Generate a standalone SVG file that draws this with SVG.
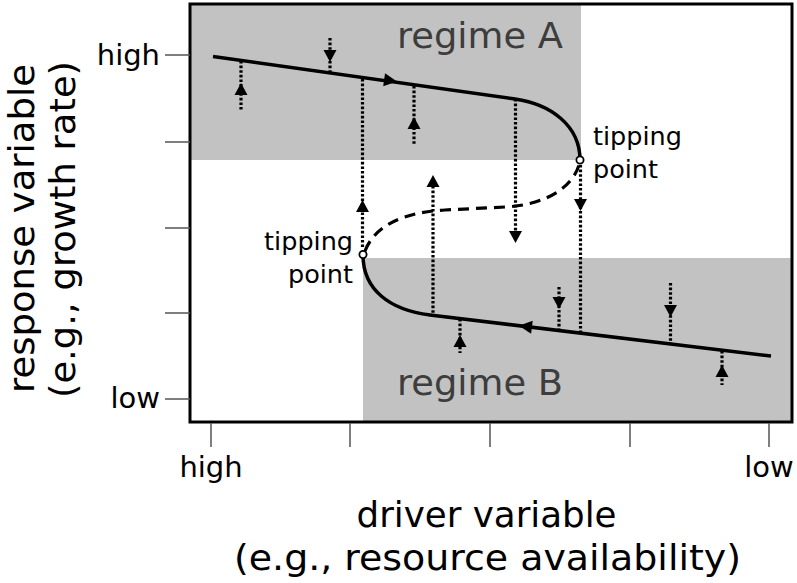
<svg xmlns="http://www.w3.org/2000/svg" xmlns:xlink="http://www.w3.org/1999/xlink" width="797" height="583" viewBox="0 0 797 583">
<style>
text{font-family:"DejaVu Sans","Liberation Sans",sans-serif;fill:#000}
.tick{stroke:#555;stroke-width:1.5}
.lbl{font-size:29px}
.title{font-size:36px}
.reg{font-size:35px;fill:#3d3d3d}
.tip{font-size:25.5px}
.curve{fill:none;stroke:#000;stroke-width:3.5}
.dash{fill:none;stroke:#000;stroke-width:3.2;stroke-dasharray:11 7}
.dot{fill:none;stroke:#000;stroke-width:3.2;stroke-dasharray:2.6 2}
.shade{fill:#c2c2c2}
.head{fill:#000}
</style>
<defs>
<path id="up" d="M0,0 L6.5,12 L-6.5,12 Z"/>
<path id="dn" d="M0,0 L6.5,-12 L-6.5,-12 Z"/>
</defs>
<rect width="797" height="583" fill="#fff"/>
<g id="regimeA">
<rect class="shade" x="190" y="4" width="391" height="156"/>
<text class="reg" x="397" y="48" textLength="166" lengthAdjust="spacingAndGlyphs">regime A</text>
</g>
<g id="regimeB">
<rect class="shade" x="363" y="258" width="429" height="164"/>
<text class="reg" x="397" y="395" textLength="166" lengthAdjust="spacingAndGlyphs">regime B</text>
</g>
<g id="axes">
<rect x="190" y="4" width="602" height="418" fill="none" stroke="#000" stroke-width="3"/>
<line class="tick" x1="165" y1="55" x2="190" y2="55"/>
<line class="tick" x1="165" y1="142" x2="190" y2="142"/>
<line class="tick" x1="165" y1="228" x2="190" y2="228"/>
<line class="tick" x1="165" y1="313" x2="190" y2="313"/>
<line class="tick" x1="165" y1="399" x2="190" y2="399"/>
<line class="tick" x1="211" y1="423" x2="211" y2="447"/>
<line class="tick" x1="350" y1="423" x2="350" y2="447"/>
<line class="tick" x1="490" y1="423" x2="490" y2="447"/>
<line class="tick" x1="630" y1="423" x2="630" y2="447"/>
<line class="tick" x1="769" y1="423" x2="769" y2="447"/>
<text class="lbl" x="160" y="65" text-anchor="end">high</text>
<text class="lbl" x="160" y="408" text-anchor="end">low</text>
<text class="lbl" x="211" y="477" text-anchor="middle">high</text>
<text class="lbl" x="769" y="477" text-anchor="middle">low</text>
<text class="title" x="486.5" y="527" text-anchor="middle" textLength="260" lengthAdjust="spacingAndGlyphs">driver variable</text>
<text class="title" x="487.5" y="570" text-anchor="middle" textLength="507" lengthAdjust="spacingAndGlyphs">(e.g., resource availability)</text>
<text class="title" transform="translate(34,228.5) rotate(-90)" x="0" y="0" text-anchor="middle" textLength="329" lengthAdjust="spacingAndGlyphs">response variable</text>
<text class="title" transform="translate(75,229.5) rotate(-90)" x="0" y="0" text-anchor="middle" textLength="337" lengthAdjust="spacingAndGlyphs">(e.g., growth rate)</text>
</g>
<g id="connectors">
<line class="dot" x1="241" y1="61" x2="241" y2="110"/>
<line class="dot" x1="330" y1="38" x2="330" y2="72"/>
<line class="dot" x1="362.5" y1="79" x2="362.5" y2="247"/>
<line class="dot" x1="414" y1="86" x2="414" y2="145"/>
<line class="dot" x1="433" y1="186" x2="433" y2="314"/>
<line class="dot" x1="515.5" y1="99" x2="515.5" y2="233"/>
<line class="dot" x1="580.5" y1="165" x2="580.5" y2="333"/>
<line class="dot" x1="460" y1="319" x2="460" y2="353"/>
<line class="dot" x1="559" y1="287" x2="559" y2="330"/>
<line class="dot" x1="670.5" y1="283" x2="670.5" y2="343"/>
<line class="dot" x1="722" y1="351" x2="722" y2="385"/>
<use href="#up" xlink:href="#up" class="head" x="241" y="83"/>
<use href="#dn" xlink:href="#dn" class="head" x="330" y="62"/>
<use href="#up" xlink:href="#up" class="head" x="362.5" y="200"/>
<use href="#up" xlink:href="#up" class="head" x="414" y="117"/>
<use href="#up" xlink:href="#up" class="head" x="433" y="175"/>
<use href="#dn" xlink:href="#dn" class="head" x="515.5" y="243"/>
<use href="#dn" xlink:href="#dn" class="head" x="580.5" y="211"/>
<use href="#up" xlink:href="#up" class="head" x="460" y="335"/>
<use href="#dn" xlink:href="#dn" class="head" x="559" y="309"/>
<use href="#dn" xlink:href="#dn" class="head" x="670.5" y="317"/>
<use href="#up" xlink:href="#up" class="head" x="722" y="365"/>
</g>
<g id="upperBranch">
<path class="curve" d="M213,56.5 L515,99 C550,104 580,125 580,160"/>
<path class="head" d="M0,0 L-13,-6.5 L-13,6.5 Z" transform="translate(397,81.5) rotate(8)"/>
</g>
<g id="unstableBranch">
<path class="dash" d="M365,251 C375,225 405,212 445,210 L505,207 C545,205 572,188 579,165"/>
</g>
<g id="lowerBranch">
<path class="curve" d="M363,255 C363,290 390,310 430,315 L771,356"/>
<path class="head" d="M0,0 L13,-6.5 L13,6.5 Z" transform="translate(519,325.7) rotate(7)"/>
</g>
<g id="tippingUpper">
<circle cx="580" cy="160" r="3.6" fill="#fff" stroke="#000" stroke-width="1.8"/>
<text class="tip" x="593" y="145">tipping</text>
<text class="tip" x="593" y="178">point</text>
</g>
<g id="tippingLower">
<circle cx="363" cy="254.5" r="3.6" fill="#fff" stroke="#000" stroke-width="1.8"/>
<text class="tip" x="353" y="250" text-anchor="end">tipping</text>
<text class="tip" x="353" y="283" text-anchor="end">point</text>
</g>
</svg>
